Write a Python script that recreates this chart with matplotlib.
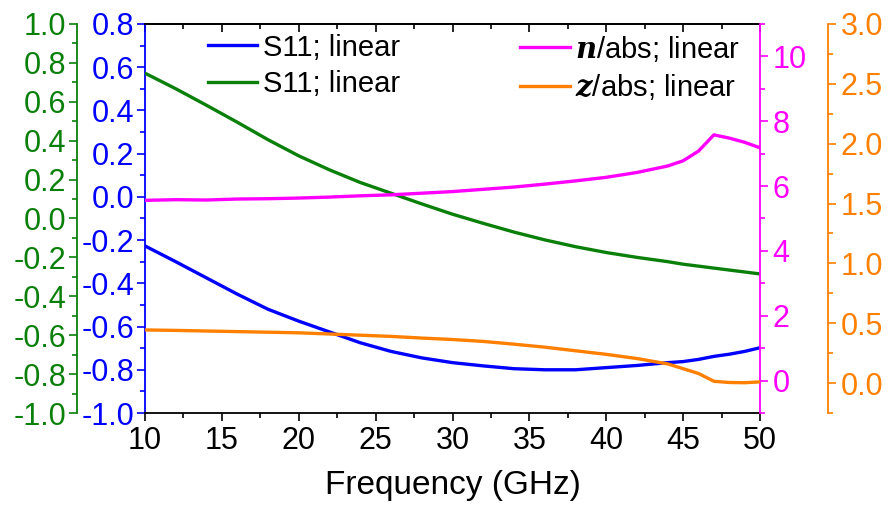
import matplotlib
matplotlib.use("Agg")
import matplotlib.pyplot as plt
from matplotlib.ticker import MultipleLocator, FormatStrFormatter

plt.rcParams['font.family'] = ['Liberation Sans', 'DejaVu Sans']
plt.rcParams['mathtext.fontset'] = 'dejavuserif'
plt.rcParams['axes.unicode_minus'] = False

# data
freq = [10, 12, 14, 16, 18, 20, 22, 24, 26, 28, 30, 32, 34, 36, 38, 40,
        42, 44, 45, 46, 47, 48, 49, 50]
s11_blue = [-0.227, -0.300, -0.375, -0.450, -0.520, -0.575, -0.625, -0.675,
            -0.715, -0.745, -0.767, -0.782, -0.795, -0.800, -0.800, -0.790,
            -0.780, -0.767, -0.762, -0.752, -0.738, -0.728, -0.715, -0.698]
s11_green = [0.747, 0.667, 0.582, 0.495, 0.405, 0.322, 0.250, 0.185,
             0.130, 0.075, 0.022, -0.025, -0.070, -0.110, -0.145, -0.175,
             -0.200, -0.222, -0.235, -0.245, -0.255, -0.265, -0.275, -0.285]
n_abs = [5.56, 5.58, 5.57, 5.60, 5.61, 5.63, 5.66, 5.70, 5.73, 5.78, 5.83,
         5.90, 5.97, 6.06, 6.16, 6.27, 6.42, 6.62, 6.78, 7.08, 7.58, 7.48,
         7.35, 7.18]
z_abs = [0.444, 0.440, 0.435, 0.430, 0.425, 0.420, 0.410, 0.400, 0.390,
         0.376, 0.364, 0.348, 0.325, 0.300, 0.270, 0.240, 0.205, 0.160,
         0.120, 0.080, 0.015, 0.005, 0.003, 0.010]

BLUE = '#0000FF'
GREEN = '#0A800A'
MAGENTA = '#FF00FF'
ORANGE = '#FF8000'
TICK_FS = 22
LW = 2.4

fig, ax = plt.subplots(figsize=(8.88, 5.08), dpi=100)
fig.subplots_adjust(left=0.1633, right=0.8559, top=0.9528, bottom=0.187)

ax_g = ax.twinx()
ax_m = ax.twinx()
ax_o = ax.twinx()

l1, = ax.plot(freq, s11_blue, color=BLUE, lw=LW, label='S11; linear')
l2, = ax_g.plot(freq, s11_green, color=GREEN, lw=LW, label='S11; linear')
l3, = ax_m.plot(freq, n_abs, color=MAGENTA, lw=LW,
                label=r'$\mathbfit{n}$/abs; linear')
l4, = ax_o.plot(freq, z_abs, color=ORANGE, lw=LW,
                label=r'$\mathbfit{z}$/abs; linear')

# main (blue) axis
ax.set_xlim(10, 50)
ax.set_ylim(-1.0, 0.8)
ax.xaxis.set_major_locator(MultipleLocator(5))
ax.xaxis.set_minor_locator(MultipleLocator(2.5))
ax.yaxis.set_major_locator(MultipleLocator(0.2))
ax.yaxis.set_minor_locator(MultipleLocator(0.1))
ax.yaxis.set_major_formatter(FormatStrFormatter('%.1f'))
ax.tick_params(axis='x', which='both', direction='out', labelsize=TICK_FS,
               width=1.2)
ax.tick_params(axis='x', which='major', length=6)
ax.tick_params(axis='x', which='minor', length=3.5)
ax.tick_params(axis='y', which='both', direction='out', colors=BLUE,
               labelsize=TICK_FS, width=1.2, pad=2)
ax.tick_params(axis='y', which='major', length=6)
ax.tick_params(axis='y', which='minor', length=3.5)
ax.spines['left'].set_color(BLUE)
ax.spines['left'].set_linewidth(1.3)
ax.spines['right'].set_visible(False)
ax.spines['top'].set_linewidth(1.3)
ax.spines['bottom'].set_linewidth(1.3)
ax.set_xlabel('Frequency (GHz)', fontsize=24, labelpad=10)

# top ticks point inward
top = ax.secondary_xaxis('top')
top.xaxis.set_major_locator(MultipleLocator(5))
top.xaxis.set_minor_locator(MultipleLocator(2.5))
top.tick_params(which='both', direction='in', labeltop=False, width=1.2)
top.tick_params(which='major', length=6)
top.tick_params(which='minor', length=3.5)
top.spines['top'].set_linewidth(1.3)

# green axis, far left
ax_g.set_ylim(-1.0, 1.0)
ax_g.yaxis.set_ticks_position('left')
ax_g.yaxis.set_label_position('left')
ax_g.spines['left'].set_position(('axes', -0.1106))
ax_g.spines['left'].set_visible(True)
ax_g.spines['left'].set_color(GREEN)
ax_g.spines['left'].set_linewidth(1.3)
for s in ('right', 'top', 'bottom'):
    ax_g.spines[s].set_visible(False)
ax_g.yaxis.set_major_locator(MultipleLocator(0.2))
ax_g.yaxis.set_minor_locator(MultipleLocator(0.1))
ax_g.yaxis.set_major_formatter(FormatStrFormatter('%.1f'))
ax_g.tick_params(axis='y', which='both', direction='out', colors=GREEN,
                 labelsize=TICK_FS, width=1.2, pad=2)
ax_g.tick_params(axis='y', which='major', length=6)
ax_g.tick_params(axis='y', which='minor', length=3.5)

# magenta axis, inner right
ax_m.set_ylim(-1, 11)
ax_m.set_yticks([0, 2, 4, 6, 8, 10])
ax_m.yaxis.set_minor_locator(MultipleLocator(1))
ax_m.spines['right'].set_color(MAGENTA)
ax_m.spines['right'].set_linewidth(1.3)
for s in ('left', 'top', 'bottom'):
    ax_m.spines[s].set_visible(False)
ax_m.tick_params(axis='y', which='both', direction='out', colors=MAGENTA,
                 labelsize=TICK_FS, width=1.2, pad=3)
ax_m.tick_params(axis='y', which='major', length=6)
ax_m.tick_params(axis='y', which='minor', length=3.5)

# orange axis, far right
ax_o.set_ylim(-0.25, 3.0)
ax_o.spines['right'].set_position(('axes', 1.1106))
ax_o.spines['right'].set_color(ORANGE)
ax_o.spines['right'].set_linewidth(1.3)
for s in ('left', 'top', 'bottom'):
    ax_o.spines[s].set_visible(False)
ax_o.yaxis.set_minor_locator(MultipleLocator(0.25))
ax_o.set_yticks([0, 0.5, 1.0, 1.5, 2.0, 2.5, 3.0])
ax_o.yaxis.set_major_formatter(FormatStrFormatter('%.1f'))
ax_o.tick_params(axis='y', which='both', direction='out', colors=ORANGE,
                 labelsize=TICK_FS, width=1.2, pad=3)
ax_o.tick_params(axis='y', which='major', length=6)
ax_o.tick_params(axis='y', which='minor', length=3.5)

# legends
leg_kw = dict(loc='upper left', bbox_transform=fig.transFigure,
              frameon=False, fontsize=21, handlelength=1.7,
              handletextpad=0.2, borderpad=0, borderaxespad=0,
              labelspacing=0.3)
leg1 = ax_o.legend([l1, l2], [l1.get_label(), l2.get_label()],
                   bbox_to_anchor=(0.234, 0.934), **leg_kw)
ax_o.add_artist(leg1)
ax_o.legend([l3, l4], [l3.get_label(), l4.get_label()],
            bbox_to_anchor=(0.5856, 0.934), **leg_kw)

fig.savefig('out.png', dpi=100)
